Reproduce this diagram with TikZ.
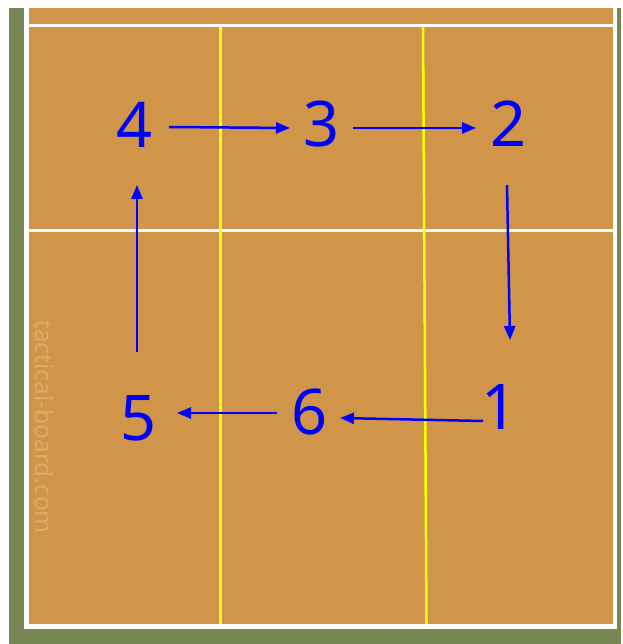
\documentclass[tikz,border=0pt]{standalone}
\usepackage{fontspec}
\setmainfont{Noto Sans}
\usetikzlibrary{arrows.meta}
\definecolor{courtorange}{RGB}{208,149,72}
\definecolor{courtgreen}{RGB}{118,134,85}
\definecolor{wmark}{RGB}{220,170,105}
\definecolor{pblue}{RGB}{0,0,255}
\definecolor{lineyellow}{RGB}{255,255,0}
\tikzset{
  num/.style={text=pblue, inner sep=0pt, font=\fontsize{63}{70}\selectfont},
  move/.style={draw=pblue, line width=2.5pt, -{Triangle[length=14pt,width=11pt]}},
  whiteline/.style={draw=white},
  yline/.style={draw=lineyellow, line width=2.5pt}
}
\begin{document}
\begin{tikzpicture}[x=1pt,y=-1pt]
\useasboundingbox (0,0) rectangle (622,644);
\fill[white] (0,0) rectangle (622,644);
% surround
\fill[courtgreen] (9,8) rectangle (621,644);
\fill[courtorange] (26,8) rectangle (615,626);
% white boundary lines
\draw[whiteline, line width=4.5pt] (26.5,8) -- (26.5,626.5);
\draw[whiteline, line width=4.5pt] (615,8) -- (615,626.5);
\draw[whiteline, line width=5pt] (24.3,626) -- (617.3,626);
\draw[whiteline, line width=3pt] (28,25.5) -- (613,25.5);
\draw[whiteline, line width=3pt] (28,230) -- (613,230);
% yellow lines
\draw[yline] (220.7,27) -- (220.7,624);
\draw[yline] (423,27) -- (426.5,624);
% watermark
\node[text=wmark, rotate=-90, inner sep=0pt, font=\fontsize{24.5}{28}\selectfont] (wm) at (45,427) {tactical-board.com};
% player numbers
\node[num] (p4) at (135,125) {4};
\node[num] (p3) at (322,124) {3};
\node[num] (p2) at (509,124) {2};
\node[num] (p1) at (500,407) {1};
\node[num] (p6) at (310,412) {6};
\node[num] (p5) at (139,418) {5};
% arrow endpoints
\coordinate (a43s) at (169,127);
\coordinate (a43e) at (290,128);
\coordinate (a32s) at (353,128);
\coordinate (a32e) at (476,128);
\coordinate (a21s) at (507,185);
\coordinate (a21e) at (510,340);
\coordinate (a16s) at (483,421);
\coordinate (a16e) at (340,418);
\coordinate (a65s) at (277,413);
\coordinate (a65e) at (177,413);
\coordinate (a54s) at (137,352);
\coordinate (a54e) at (137,185);
\draw[move] (a43s) -- (a43e);
\draw[move] (a32s) -- (a32e);
\draw[move] (a21s) -- (a21e);
\draw[move] (a16s) -- (a16e);
\draw[move] (a65s) -- (a65e);
\draw[move] (a54s) -- (a54e);
\end{tikzpicture}
\end{document}
